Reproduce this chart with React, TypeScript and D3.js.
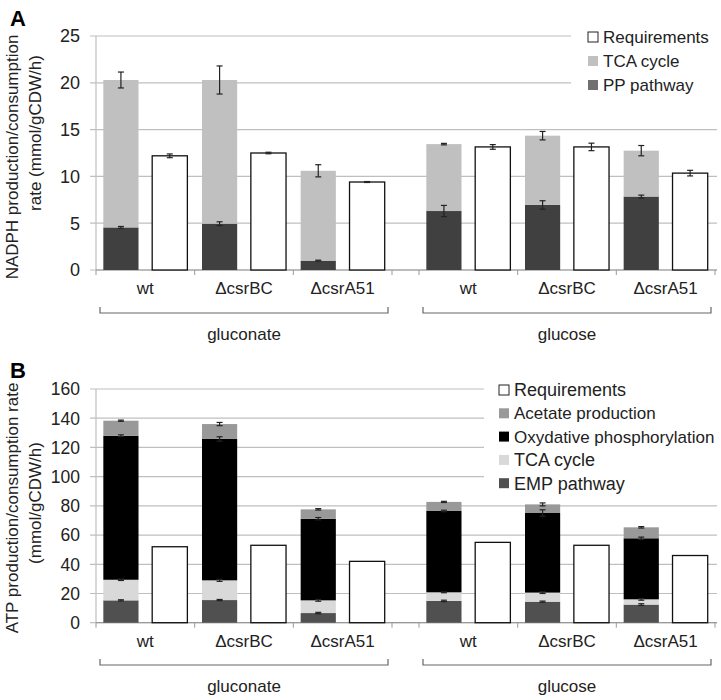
import * as d3 from "d3";

const strains = ["wt", "ΔcsrBC", "ΔcsrA51"];
const substrates = ["gluconate", "glucose"];

// panel A, NADPH (gluconate wt, csrBC, csrA51, glucose wt, csrBC, csrA51)
const ppPathway = [4.55, 4.95, 1.0, 6.3, 6.95, 7.85];
const ppErr = [0.1, 0.2, 0.05, 0.6, 0.45, 0.15];
const tcaNadph = [15.75, 15.35, 9.6, 7.15, 7.4, 4.9];
const tcaNadphErr = [0.85, 1.5, 0.65, 0.08, 0.45, 0.55];
const reqNadph = [12.2, 12.5, 9.4, 13.15, 13.15, 10.35];
const reqNadphErr = [0.2, 0.08, 0.05, 0.25, 0.4, 0.3];
const nadphTicks = [0, 5, 10, 15, 20, 25];

// panel B, ATP
const empPathway = [15.3, 15.5, 6.6, 14.9, 14.4, 12.4];
const empErr = [0.4, 0.4, 0.5, 0.5, 0.4, 0.6];
const tcaAtp = [14.1, 13.5, 8.7, 5.9, 6.2, 3.6];
const tcaAtpErr = [0.5, 0.7, 0.6, 0.3, 0.6, 0.6];
const oxPhos = [98.6, 96.8, 55.9, 55.7, 54.5, 41.8];
const oxPhosErr = [0.6, 1.5, 0.8, 0.5, 2.2, 0.8];
const acetate = [10.3, 10.2, 6.4, 6.2, 5.9, 7.5];
const acetateErr = [0.4, 1.1, 0.5, 0.4, 1.0, 0.5];
const reqAtp = [52, 53, 42, 55, 53, 46];
const atpTicks = [0, 20, 40, 60, 80, 100, 120, 140, 160];

const font = "'Liberation Sans', Arial, sans-serif";
const gridColor = "#bfbfbf";

type Seg = { values: number[]; err: number[] | null; color: string };
type Legend = { label: string; color: string; size: number };
type Title = { text: string; x: number; y: number };

// group bands, one per substrate, with a narrow gap between them
const groupX = d3.scaleOrdinal<string, [number, number]>()
  .domain(substrates)
  .range([[96, 392], [419, 715]]);
const inner = d3.scaleBand().domain(["prod", "req"]).range([0, 98.7]).paddingInner(0.28).paddingOuter(0.15);

function catStart(i: number) {
  const g = substrates[Math.floor(i / 3)];
  const band = d3.scaleBand().domain(strains).range(groupX(g));
  return band(strains[i % 3]) as number;
}

function ErrBar({ x, y0, y1 }: { x: number; y0: number; y1: number }) {
  return (
    <g stroke="#222" strokeWidth={1.2}>
      <line x1={x} x2={x} y1={y0} y2={y1} />
      <line x1={x - 3} x2={x + 3} y1={y0} y2={y0} />
      <line x1={x - 3} x2={x + 3} y1={y1} y2={y1} />
    </g>
  );
}

function Panel({
  top, bottom, max, ticks, tickSize, segs, req, reqErr, legend, legendX, legendY, legendStep, gridCut, gridCutX,
  titles, letter, letterY, labelY, bracketY, subY,
}: {
  top: number; bottom: number; max: number; ticks: number[]; tickSize: number; segs: Seg[]; req: number[]; reqErr: number[] | null;
  legend: Legend[]; legendX: number; legendY: number; legendStep: number; gridCut: number; gridCutX: number;
  titles: Title[]; letter: string; letterY: number; labelY: number; bracketY: number; subY: number;
}) {
  const y = d3.scaleLinear().domain([0, max]).range([bottom, top]);
  const bw = inner.bandwidth();
  const bounds = [96, 194.7, 293.3, 392, 419, 517.7, 616.3, 715];
  return (
    <g>
      <text x={10} y={letterY} fontFamily={font} fontWeight="bold" fontSize={22}>{letter}</text>
      {ticks.map((t) => (
        <g key={t}>
          <line x1={90} x2={t >= gridCut ? gridCutX : 717} y1={y(t)} y2={y(t)} stroke={gridColor} strokeWidth={1.2} />
          <text x={80} y={y(t)} dy="0.36em" textAnchor="end" fontFamily={font} fontSize={tickSize} fill="#222">{t}</text>
        </g>
      ))}
      <line x1={96} x2={96} y1={top} y2={bottom} stroke={gridColor} strokeWidth={1.2} />
      <line x1={96} x2={717} y1={bottom} y2={bottom} stroke="#999" strokeWidth={1.2} />
      {bounds.map((b) => (
        <line key={b} x1={b} x2={b} y1={bottom} y2={bottom + 5} stroke="#999" />
      ))}
      {titles.map((l) => (
        <text key={l.text} transform={`translate(${l.x},${l.y}) rotate(-90)`} textAnchor="middle"
          fontFamily={font} fontSize={17} fill="#222">{l.text}</text>
      ))}
      {req.map((_, i) => {
        const x0 = catStart(i) + (inner("prod") as number);
        let acc = 0;
        return (
          <g key={i}>
            {segs.map((s, k) => {
              const v0 = acc;
              acc += s.values[i];
              return <rect key={k} x={x0} width={bw} y={y(acc)} height={y(v0) - y(acc)} fill={s.color} />;
            })}
          </g>
        );
      })}
      {req.map((_, i) => {
        const x0 = catStart(i) + (inner("prod") as number);
        let acc = 0;
        return (
          <g key={i}>
            {segs.map((s, k) => {
              acc += s.values[i];
              if (!s.err) return null;
              return <ErrBar key={k} x={x0 + bw / 2} y0={y(acc - s.err[i])} y1={y(acc + s.err[i])} />;
            })}
          </g>
        );
      })}
      {req.map((v, i) => {
        const x0 = catStart(i) + (inner("req") as number);
        return (
          <g key={i}>
            <rect x={x0} width={bw} y={y(v)} height={y(0) - y(v)} fill="#fff" stroke="#111" strokeWidth={1.3} />
            {reqErr && <ErrBar x={x0 + bw / 2} y0={y(v - reqErr[i])} y1={y(v + reqErr[i])} />}
          </g>
        );
      })}
      {req.map((_, i) => (
        <text key={i} x={catStart(i) + 49.3} y={labelY} textAnchor="middle" fontFamily={font} fontSize={17} fill="#222">
          {strains[i % 3]}
        </text>
      ))}
      {substrates.map((s) => {
        const [a, b] = groupX(s);
        return (
          <g key={s}>
            <path d={`M${a + 4},${bracketY - 6}V${bracketY}H${b - 4}V${bracketY - 6}`} fill="none" stroke="#666" strokeWidth={1.2} />
            <text x={(a + b) / 2} y={subY} textAnchor="middle" fontFamily={font} fontSize={17} fill="#222">{s}</text>
          </g>
        );
      })}
      {legend.map((l, k) => (
        <g key={l.label}>
          <rect x={legendX} y={legendY + k * legendStep - 5} width={10} height={10} fill={l.color}
            stroke={l.color === "#fff" ? "#222" : "none"} />
          <text x={legendX + 15} y={legendY + k * legendStep} dy="0.36em" fontFamily={font} fontSize={l.size} fill="#222">{l.label}</text>
        </g>
      ))}
    </g>
  );
}

export default function App() {
  return (
    <svg width={721} height={700} style={{ position: "absolute", left: 0, top: 0, background: "#fff" }}>
      <Panel
        top={36} bottom={270} max={25} ticks={nadphTicks} tickSize={18}
        segs={[
          { values: ppPathway, err: ppErr, color: "#404040" },
          { values: tcaNadph, err: tcaNadphErr, color: "#c0c0c0" },
        ]}
        req={reqNadph} reqErr={reqNadphErr}
        legend={[
          { label: "Requirements", color: "#fff", size: 17 },
          { label: "TCA cycle", color: "#c0c0c0", size: 17 },
          { label: "PP pathway", color: "#707070", size: 17 },
        ]}
        legendX={588} legendY={37} legendStep={24} gridCut={20} gridCutX={571}
        titles={[
          { text: "NADPH production/consumption", x: 18, y: 157 },
          { text: "rate (mmol/gCDW/h)", x: 41, y: 133 },
        ]}
        letter="A" letterY={26} labelY={294} bracketY={313} subY={340}
      />
      <Panel
        top={389} bottom={622.7} max={160} ticks={atpTicks} tickSize={17.5}
        segs={[
          { values: empPathway, err: empErr, color: "#505050" },
          { values: tcaAtp, err: tcaAtpErr, color: "#d9d9d9" },
          { values: oxPhos, err: oxPhosErr, color: "#000" },
          { values: acetate, err: acetateErr, color: "#999" },
        ]}
        req={reqAtp} reqErr={null}
        legend={[
          { label: "Requirements", color: "#fff", size: 18 },
          { label: "Acetate production", color: "#999", size: 17 },
          { label: "Oxydative phosphorylation", color: "#000", size: 17 },
          { label: "TCA cycle", color: "#d9d9d9", size: 18 },
          { label: "EMP pathway", color: "#505050", size: 18 },
        ]}
        legendX={499} legendY={390} legendStep={23.3} gridCut={100} gridCutX={484}
        titles={[
          { text: "ATP production/consumption rate", x: 18, y: 508 },
          { text: "(mmol/gCDW/h)", x: 41, y: 503 },
        ]}
        letter="B" letterY={378} labelY={647} bracketY={665} subY={692}
      />
    </svg>
  );
}
